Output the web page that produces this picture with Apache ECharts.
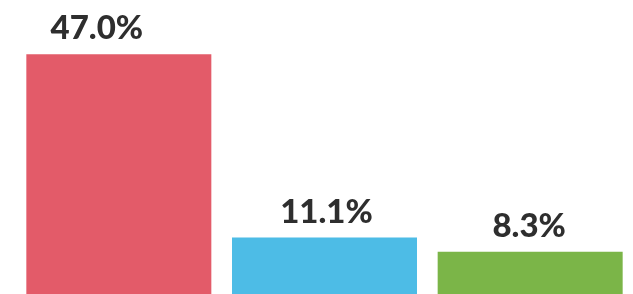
<!DOCTYPE html>
<html>
<head>
<meta charset="utf-8">
<script src="https://cdn.jsdelivr.net/npm/echarts@6/dist/echarts.min.js"></script>
<style>html,body{margin:0;padding:0;background:#fff;}#c{width:633px;height:294px;}</style>
</head>
<body>
<div id="c"></div>
<script>
const categories = ['A', 'B', 'C'];
const values = [47.0, 11.1, 8.3];
const colors = ['#e35b69', '#4dbce6', '#7bb548'];
const labelShift = [-22, 2, -1];

const chart = echarts.init(document.getElementById('c'), null, {renderer: 'canvas'});
chart.setOption({
  animation: false,
  backgroundColor: '#ffffff',
  grid: {left: 16, right: -3, top: 39, bottom: -3.3, containLabel: false},
  xAxis: {
    type: 'category', data: categories,
    axisLine: {show: false}, axisTick: {show: false}, axisLabel: {show: false}
  },
  yAxis: {
    type: 'value', min: 0, max: 50,
    axisLine: {show: false}, axisTick: {show: false}, axisLabel: {show: false}, splitLine: {show: false}
  },
  series: [{
    type: 'bar',
    barWidth: 185,
    data: values.map((v, i) => ({value: v, itemStyle: {color: colors[i]}, label: {offset: [labelShift[i], 0]}})),
    label: {
      show: true, position: 'top', distance: 9,
      formatter: p => p.value.toFixed(1) + '%',
      fontFamily: 'Lato', fontWeight: 900, fontSize: 33, color: '#2e2e2e'
    }
  }]
});
</script>
</body>
</html>
